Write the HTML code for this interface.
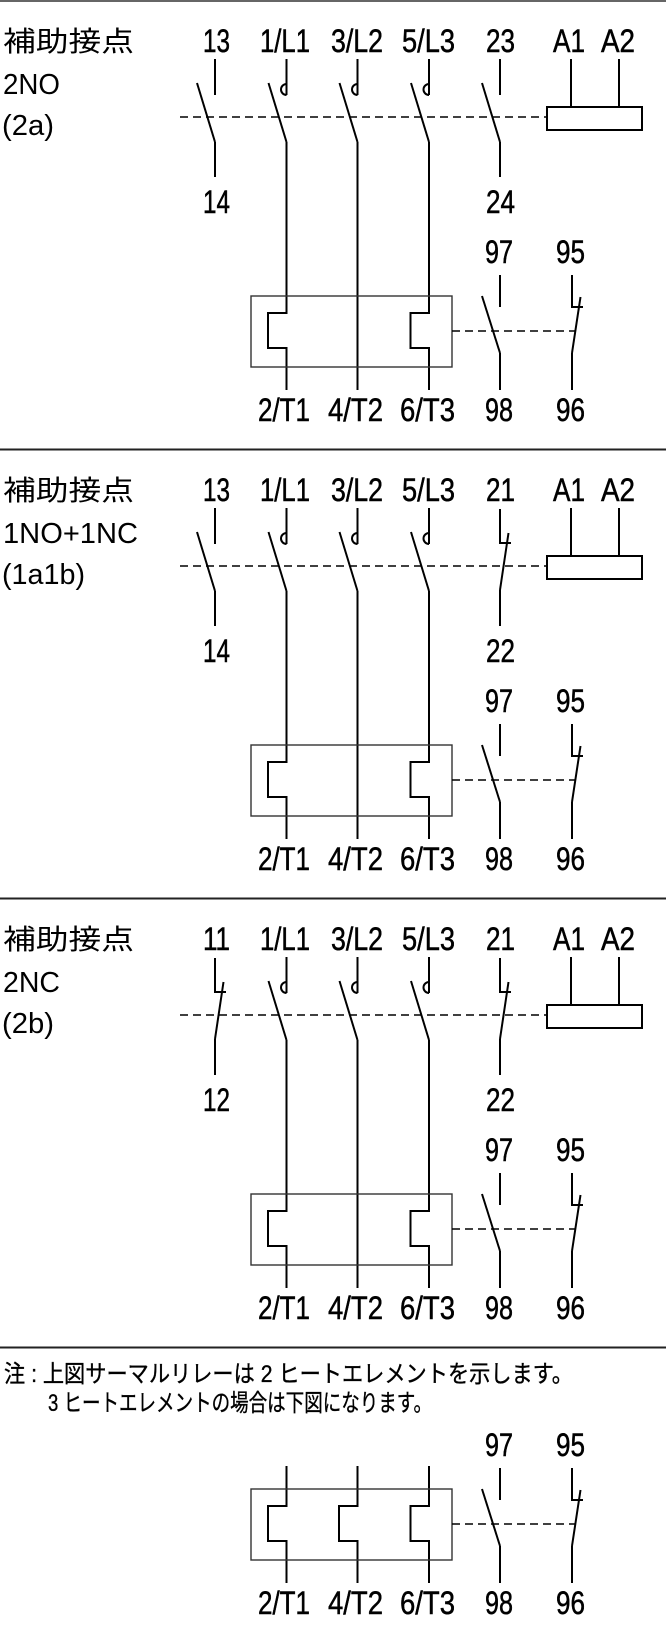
<!DOCTYPE html>
<html>
<head>
<meta charset="utf-8">
<style>
html,body{margin:0;padding:0;background:#fff;}
svg{display:block;}
.t{font-family:"Liberation Sans","Noto Sans CJK JP",sans-serif;font-size:32px;fill:#000;stroke:#000;stroke-width:0.5;}
.l{font-family:"Liberation Sans","Noto Sans CJK JP",sans-serif;font-size:29px;fill:#000;}
.j{font-family:"Liberation Sans","Noto Sans CJK JP",sans-serif;font-size:28px;fill:#000;}
.n{font-family:"Liberation Sans","Noto Sans CJK JP",sans-serif;font-size:24px;fill:#000;stroke:#000;stroke-width:0.35;}
.w{stroke:#000;stroke-width:2;fill:none;}
.bx{stroke:#333;stroke-width:1.4;fill:none;}
.d{stroke:#000;stroke-width:1.4;stroke-dasharray:8 5;fill:none;}
</style>
</head>
<body>
<svg width="666" height="1633" viewBox="0 0 666 1633" xmlns="http://www.w3.org/2000/svg">
<defs>
  <g id="main">
    <line class="w" x1="286.5" y1="59" x2="286.5" y2="95"/>
    <path class="w" d="M286.5 84 A5.5 5.5 0 0 0 286.5 95"/>
    <line class="w" x1="268.5" y1="83" x2="286.5" y2="142"/>
    <line class="w" x1="357.5" y1="59" x2="357.5" y2="95"/>
    <path class="w" d="M357.5 84 A5.5 5.5 0 0 0 357.5 95"/>
    <line class="w" x1="339.5" y1="83" x2="357.5" y2="142"/>
    <line class="w" x1="429" y1="59" x2="429" y2="95"/>
    <path class="w" d="M429 84 A5.5 5.5 0 0 0 429 95"/>
    <line class="w" x1="411" y1="83" x2="429" y2="142"/>
    <path class="w" d="M286.5 142 V313 H268 V348 H286.5 V390"/>
    <line class="w" x1="357.5" y1="142" x2="357.5" y2="390"/>
    <path class="w" d="M429 142 V313 H410.5 V348 H429 V390"/>
    <rect class="bx" x="251" y="296" width="201" height="71"/>
    <line class="w" x1="571" y1="59" x2="571" y2="107"/>
    <line class="w" x1="619" y1="59" x2="619" y2="107"/>
    <rect class="w" x="547" y="107" width="95" height="23"/>
    <line class="d" x1="180" y1="117" x2="547" y2="117"/>
    <line class="w" x1="500" y1="275" x2="500" y2="307"/>
    <line class="w" x1="482" y1="296" x2="500" y2="353"/>
    <line class="w" x1="500" y1="353" x2="500" y2="390"/>
    <path class="w" d="M572 275 V307 H583"/>
    <line class="w" x1="572" y1="353" x2="580.5" y2="297"/>
    <line class="w" x1="572" y1="353" x2="572" y2="390"/>
    <line class="d" x1="452" y1="331" x2="575" y2="331"/>
    <text class="t" x="260" y="52" textLength="50" lengthAdjust="spacingAndGlyphs">1/L1</text>
    <text class="t" x="331" y="52" textLength="52" lengthAdjust="spacingAndGlyphs">3/L2</text>
    <text class="t" x="402" y="52" textLength="53" lengthAdjust="spacingAndGlyphs">5/L3</text>
    <text class="t" x="553" y="52" textLength="32" lengthAdjust="spacingAndGlyphs">A1</text>
    <text class="t" x="601" y="52" textLength="34" lengthAdjust="spacingAndGlyphs">A2</text>
    <text class="t" x="485" y="263" textLength="28" lengthAdjust="spacingAndGlyphs">97</text>
    <text class="t" x="556" y="263" textLength="29" lengthAdjust="spacingAndGlyphs">95</text>
    <text class="t" x="258" y="421" textLength="52" lengthAdjust="spacingAndGlyphs">2/T1</text>
    <text class="t" x="328" y="421" textLength="55" lengthAdjust="spacingAndGlyphs">4/T2</text>
    <text class="t" x="400" y="421" textLength="55" lengthAdjust="spacingAndGlyphs">6/T3</text>
    <text class="t" x="485" y="421" textLength="28" lengthAdjust="spacingAndGlyphs">98</text>
    <text class="t" x="556" y="421" textLength="29" lengthAdjust="spacingAndGlyphs">96</text>
    <text class="j" x="3" y="51" textLength="131" lengthAdjust="spacingAndGlyphs">補助接点</text>
  </g>
  <g id="no">
    <line class="w" x1="0" y1="59" x2="0" y2="95"/>
    <line class="w" x1="-18" y1="83" x2="0" y2="142"/>
    <line class="w" x1="0" y1="142" x2="0" y2="177"/>
  </g>
  <g id="nc">
    <path class="w" d="M0 60 V94 H11"/>
    <line class="w" x1="0" y1="141" x2="8.5" y2="84"/>
    <line class="w" x1="0" y1="141" x2="0" y2="177"/>
  </g>
</defs>

<line x1="0" y1="1" x2="666" y2="1" stroke="#666" stroke-width="2"/>
<line x1="0" y1="449.5" x2="666" y2="449.5" stroke="#222" stroke-width="2"/>
<line x1="0" y1="898.5" x2="666" y2="898.5" stroke="#222" stroke-width="2"/>
<line x1="0" y1="1347.5" x2="666" y2="1347.5" stroke="#222" stroke-width="2"/>

<g>
  <use href="#main"/>
  <use href="#no" x="215"/>
  <use href="#no" x="500"/>
  <text class="t" x="203" y="52" textLength="27" lengthAdjust="spacingAndGlyphs">13</text>
  <text class="t" x="486" y="52" textLength="29" lengthAdjust="spacingAndGlyphs">23</text>
  <text class="t" x="203" y="213" textLength="27" lengthAdjust="spacingAndGlyphs">14</text>
  <text class="t" x="486" y="213" textLength="29" lengthAdjust="spacingAndGlyphs">24</text>
  <text class="l" x="3" y="94" textLength="57" lengthAdjust="spacingAndGlyphs">2NO</text>
  <text class="l" x="2" y="135" textLength="52" lengthAdjust="spacingAndGlyphs">(2a)</text>
</g>

<g transform="translate(0,449)">
  <use href="#main"/>
  <use href="#no" x="215"/>
  <use href="#nc" x="500"/>
  <text class="t" x="203" y="52" textLength="27" lengthAdjust="spacingAndGlyphs">13</text>
  <text class="t" x="486" y="52" textLength="29" lengthAdjust="spacingAndGlyphs">21</text>
  <text class="t" x="203" y="213" textLength="27" lengthAdjust="spacingAndGlyphs">14</text>
  <text class="t" x="486" y="213" textLength="29" lengthAdjust="spacingAndGlyphs">22</text>
  <text class="l" x="3" y="94" textLength="135" lengthAdjust="spacingAndGlyphs">1NO+1NC</text>
  <text class="l" x="2" y="135" textLength="83" lengthAdjust="spacingAndGlyphs">(1a1b)</text>
</g>

<g transform="translate(0,898)">
  <use href="#main"/>
  <use href="#nc" x="215"/>
  <use href="#nc" x="500"/>
  <text class="t" x="203" y="52" textLength="27" lengthAdjust="spacingAndGlyphs">11</text>
  <text class="t" x="486" y="52" textLength="29" lengthAdjust="spacingAndGlyphs">21</text>
  <text class="t" x="203" y="213" textLength="27" lengthAdjust="spacingAndGlyphs">12</text>
  <text class="t" x="486" y="213" textLength="29" lengthAdjust="spacingAndGlyphs">22</text>
  <text class="l" x="3" y="94" textLength="57" lengthAdjust="spacingAndGlyphs">2NC</text>
  <text class="l" x="2" y="135" textLength="52" lengthAdjust="spacingAndGlyphs">(2b)</text>
</g>

<text class="n" x="4" y="1382" textLength="569" lengthAdjust="spacingAndGlyphs">注 : 上図サーマルリレーは 2 ヒートエレメントを示します。</text>
<text class="n" x="48" y="1411" textLength="384" lengthAdjust="spacingAndGlyphs">3 ヒートエレメントの場合は下図になります。</text>

<g transform="translate(0,1193)">
  <path class="w" d="M286.5 273 V313 H268 V348 H286.5 V390"/>
  <path class="w" d="M357.5 273 V313 H339 V348 H357.5 V390"/>
  <path class="w" d="M429 273 V313 H410.5 V348 H429 V390"/>
  <rect class="bx" x="251" y="296" width="201" height="71"/>
  <line class="w" x1="500" y1="275" x2="500" y2="307"/>
  <line class="w" x1="482" y1="296" x2="500" y2="353"/>
  <line class="w" x1="500" y1="353" x2="500" y2="390"/>
  <path class="w" d="M572 275 V307 H583"/>
  <line class="w" x1="572" y1="353" x2="580.5" y2="297"/>
  <line class="w" x1="572" y1="353" x2="572" y2="390"/>
  <line class="d" x1="452" y1="331" x2="575" y2="331"/>
  <text class="t" x="485" y="263" textLength="28" lengthAdjust="spacingAndGlyphs">97</text>
  <text class="t" x="556" y="263" textLength="29" lengthAdjust="spacingAndGlyphs">95</text>
  <text class="t" x="258" y="421" textLength="52" lengthAdjust="spacingAndGlyphs">2/T1</text>
  <text class="t" x="328" y="421" textLength="55" lengthAdjust="spacingAndGlyphs">4/T2</text>
  <text class="t" x="400" y="421" textLength="55" lengthAdjust="spacingAndGlyphs">6/T3</text>
  <text class="t" x="485" y="421" textLength="28" lengthAdjust="spacingAndGlyphs">98</text>
  <text class="t" x="556" y="421" textLength="29" lengthAdjust="spacingAndGlyphs">96</text>
</g>
</svg>
</body>
</html>
